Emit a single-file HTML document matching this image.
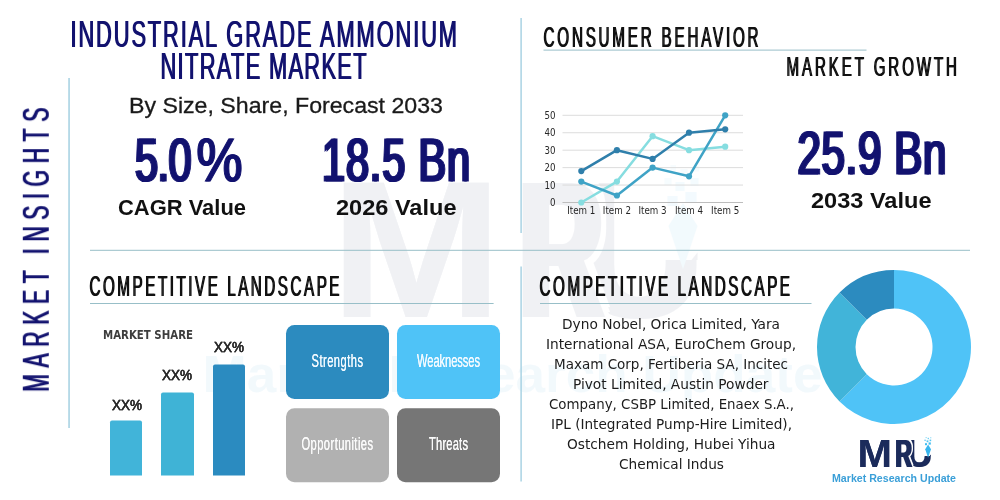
<!DOCTYPE html>
<html lang="en">
<head>
<meta charset="utf-8">
<title>Industrial Grade Ammonium Nitrate Market</title>
<style>
html,body{margin:0;padding:0;background:#ffffff;}
body{width:1000px;height:500px;overflow:hidden;font-family:"Liberation Sans",sans-serif;}
svg{display:block;}
text{white-space:pre;}
</style>
</head>
<body>
<svg width="1000" height="500" viewBox="0 0 1000 500">
<rect width="1000" height="500" fill="#ffffff"/>
<g opacity="0.06" transform="translate(-3957.5,-2020.0) scale(5.0)"><g style="filter:drop-shadow(1.0px 0 0 #1b2b5b)"><text x="906.00" y="467.4" textLength="26.00" lengthAdjust="spacingAndGlyphs" font-family="'Liberation Sans', sans-serif" font-size="39.1" font-weight="bold" fill="#1b2b5b">U</text></g>
<rect x="923.6" y="438" width="9" height="18" fill="#ffffff"/>
<path d="M925.2,456 h5.8 v-1.5 l-2.9,3.6 z" fill="#1b2b5b"/>
<path d="M928.1,444.6 l2.9,4.6 l-2.9,8.6 l-2.9,-8.6 z" fill="#37b6ee"/>
<rect x="925.0" y="443.2" width="2.0" height="2.0" fill="#3fbdf0"/>
<rect x="928.6" y="442.4" width="2.2" height="2.2" fill="#3fbdf0"/>
<rect x="926.6" y="440.4" width="1.8" height="1.8" fill="#55c6f2"/>
<rect x="929.6" y="439.6" width="1.6" height="1.6" fill="#55c6f2"/>
<rect x="924.4" y="439.6" width="1.4" height="1.4" fill="#6fd0f4"/>
<rect x="927.6" y="437.8" width="1.4" height="1.4" fill="#6fd0f4"/>
<rect x="930.2" y="437.2" width="1.1" height="1.1" fill="#8ad9f6"/>
<rect x="925.6" y="437.0" width="1.1" height="1.1" fill="#8ad9f6"/>
<g style="filter:drop-shadow(1.1px 0 0 #fff) drop-shadow(-1.1px 0 0 #fff) drop-shadow(0 1.1px 0 #fff) drop-shadow(0 -1.1px 0 #fff)"><g style="filter:drop-shadow(2.2px 0 0 #1b2b5b)"><text x="894.50" y="467.4" textLength="16.50" lengthAdjust="spacingAndGlyphs" font-family="'Liberation Sans', sans-serif" font-size="39.1" font-weight="bold" fill="#1b2b5b">R</text></g></g>
<g style="filter:drop-shadow(0.7px 0 0 #1b2b5b)"><text x="857.50" y="467.4" textLength="34.50" lengthAdjust="spacingAndGlyphs" font-family="'Liberation Sans', sans-serif" font-size="39.1" font-weight="bold" fill="#1b2b5b">M</text></g>
<text x="832.00" y="482.3" textLength="124.00" lengthAdjust="spacingAndGlyphs" font-family="'Liberation Sans', sans-serif" font-size="10.5" font-weight="bold" fill="#3a9fd8">Market Research Update</text></g>
<rect x="68.3" y="78" width="1.5" height="350" fill="#a4d0e2"/>
<rect x="520.4" y="18" width="1.4" height="215" fill="#a4d0e2"/>
<rect x="520.4" y="266.5" width="1.4" height="215" fill="#a4d0e2"/>
<rect x="90" y="249.8" width="880" height="1" fill="#98bfc8"/>
<rect x="543.5" y="49.6" width="323" height="1" fill="#98bfc8"/>
<rect x="90" y="303" width="403.6" height="1" fill="#98bfc8"/>
<rect x="540" y="303" width="271.5" height="1" fill="#98bfc8"/>
<rect x="562.5" y="202.00" width="180.5" height="1" fill="#bdbdbd"/>
<text x="555.5" y="206.00" text-anchor="end" font-family="'DejaVu Sans', sans-serif" font-stretch="condensed" font-size="9.6" fill="#262626">0</text>
<rect x="562.5" y="184.56" width="180.5" height="1" fill="#dcdcdc"/>
<text x="555.5" y="188.56" text-anchor="end" font-family="'DejaVu Sans', sans-serif" font-stretch="condensed" font-size="9.6" fill="#262626">10</text>
<rect x="562.5" y="167.12" width="180.5" height="1" fill="#dcdcdc"/>
<text x="555.5" y="171.12" text-anchor="end" font-family="'DejaVu Sans', sans-serif" font-stretch="condensed" font-size="9.6" fill="#262626">20</text>
<rect x="562.5" y="149.68" width="180.5" height="1" fill="#dcdcdc"/>
<text x="555.5" y="153.68" text-anchor="end" font-family="'DejaVu Sans', sans-serif" font-stretch="condensed" font-size="9.6" fill="#262626">30</text>
<rect x="562.5" y="132.24" width="180.5" height="1" fill="#dcdcdc"/>
<text x="555.5" y="136.24" text-anchor="end" font-family="'DejaVu Sans', sans-serif" font-stretch="condensed" font-size="9.6" fill="#262626">40</text>
<rect x="562.5" y="114.80" width="180.5" height="1" fill="#dcdcdc"/>
<text x="555.5" y="118.80" text-anchor="end" font-family="'DejaVu Sans', sans-serif" font-stretch="condensed" font-size="9.6" fill="#262626">50</text>
<text x="581.3" y="214" text-anchor="middle" font-family="'DejaVu Sans', sans-serif" font-stretch="condensed" font-size="9.7" fill="#262626">Item 1</text>
<text x="616.9" y="214" text-anchor="middle" font-family="'DejaVu Sans', sans-serif" font-stretch="condensed" font-size="9.7" fill="#262626">Item 2</text>
<text x="652.6" y="214" text-anchor="middle" font-family="'DejaVu Sans', sans-serif" font-stretch="condensed" font-size="9.7" fill="#262626">Item 3</text>
<text x="689.0" y="214" text-anchor="middle" font-family="'DejaVu Sans', sans-serif" font-stretch="condensed" font-size="9.7" fill="#262626">Item 4</text>
<text x="725.2" y="214" text-anchor="middle" font-family="'DejaVu Sans', sans-serif" font-stretch="condensed" font-size="9.7" fill="#262626">Item 5</text>
<polyline points="581.3,202.5 616.9,181.6 652.6,136.2 689.0,150.2 725.2,146.7" fill="none" stroke="#86dde0" stroke-width="2.5" stroke-linejoin="round" stroke-linecap="round"/>
<circle cx="581.3" cy="202.5" r="3.1" fill="#86dde0"/>
<circle cx="616.9" cy="181.6" r="3.1" fill="#86dde0"/>
<circle cx="652.6" cy="136.2" r="3.1" fill="#86dde0"/>
<circle cx="689.0" cy="150.2" r="3.1" fill="#86dde0"/>
<circle cx="725.2" cy="146.7" r="3.1" fill="#86dde0"/>
<polyline points="581.3,181.6 616.9,195.5 652.6,167.6 689.0,176.3 725.2,115.3" fill="none" stroke="#3fa3c6" stroke-width="2.5" stroke-linejoin="round" stroke-linecap="round"/>
<circle cx="581.3" cy="181.6" r="3.1" fill="#3fa3c6"/>
<circle cx="616.9" cy="195.5" r="3.1" fill="#3fa3c6"/>
<circle cx="652.6" cy="167.6" r="3.1" fill="#3fa3c6"/>
<circle cx="689.0" cy="176.3" r="3.1" fill="#3fa3c6"/>
<circle cx="725.2" cy="115.3" r="3.1" fill="#3fa3c6"/>
<polyline points="581.3,171.1 616.9,150.2 652.6,158.9 689.0,132.7 725.2,129.3" fill="none" stroke="#2f7fab" stroke-width="2.5" stroke-linejoin="round" stroke-linecap="round"/>
<circle cx="581.3" cy="171.1" r="3.1" fill="#2f7fab"/>
<circle cx="616.9" cy="150.2" r="3.1" fill="#2f7fab"/>
<circle cx="652.6" cy="158.9" r="3.1" fill="#2f7fab"/>
<circle cx="689.0" cy="132.7" r="3.1" fill="#2f7fab"/>
<circle cx="725.2" cy="129.3" r="3.1" fill="#2f7fab"/>
<path d="M110,475.6 V422.5 Q110,420.5 112,420.5 H140 Q142,420.5 142,422.5 V475.6 Z" fill="#41b4d9"/>
<path d="M161,475.6 V394.5 Q161,392.5 163,392.5 H192 Q194,392.5 194,394.5 V475.6 Z" fill="#3fb3d6"/>
<path d="M213,475.6 V366.5 Q213,364.5 215,364.5 H243 Q245,364.5 245,366.5 V475.6 Z" fill="#2b8bc0"/>
<rect x="286" y="325" width="103" height="74" rx="8.5" ry="8.5" fill="#2c8bbf"/>
<rect x="397" y="325" width="103" height="74" rx="8.5" ry="8.5" fill="#4fc3f7"/>
<rect x="286" y="408.2" width="103" height="74" rx="8.5" ry="8.5" fill="#b1b1b1"/>
<rect x="397" y="408.2" width="103" height="74" rx="8.5" ry="8.5" fill="#767676"/>
<path d="M894.00,270.00 A77,77 0 1 1 839.55,401.45 L866.78,374.22 A38.5,38.5 0 1 0 894.00,308.50 Z" fill="#4fc3f7"/>
<path d="M839.55,401.45 A77,77 0 0 1 839.55,292.55 L866.78,319.78 A38.5,38.5 0 0 0 866.78,374.22 Z" fill="#41b4d9"/>
<path d="M839.55,292.55 A77,77 0 0 1 894.00,270.00 L894.00,308.50 A38.5,38.5 0 0 0 866.78,319.78 Z" fill="#2c8bbf"/>
<g style="filter:drop-shadow(1.5px 0 0 #12126f)"><text transform="translate(70.00,46.6) scale(0.59,1)" textLength="655.08" lengthAdjust="spacing" font-family="'Liberation Sans', sans-serif" font-size="37" font-weight="normal" fill="#12126f">INDUSTRIAL GRADE AMMONIUM</text></g>
<g style="filter:drop-shadow(1.5px 0 0 #12126f)"><text transform="translate(160.00,78.6) scale(0.59,1)" textLength="349.15" lengthAdjust="spacing" font-family="'Liberation Sans', sans-serif" font-size="37" font-weight="normal" fill="#12126f">NITRATE MARKET</text></g>
<text x="129.00" y="112.5" textLength="314.00" lengthAdjust="spacingAndGlyphs" font-family="'Liberation Sans', sans-serif" font-size="22.9" font-weight="normal" fill="#1a1a1a" stroke="#1a1a1a" stroke-width="0.3">By Size, Share, Forecast 2033</text>
<g style="filter:drop-shadow(2.0px 0 0 #12126f)"><text transform="translate(134.00,180.5) scale(0.685,1)" textLength="82.48" lengthAdjust="spacing" font-family="'Liberation Sans', sans-serif" font-size="60.5" font-weight="normal" fill="#12126f" stroke="#12126f" stroke-width="1" vector-effect="non-scaling-stroke">5.0</text></g>
<g style="filter:drop-shadow(1.6px 0 0 #12126f)"><text transform="translate(196.00,180.5) scale(0.8,1)" textLength="57.50" lengthAdjust="spacingAndGlyphs" font-family="'Liberation Sans', sans-serif" font-size="60.5" font-weight="normal" fill="#12126f" stroke="#12126f" stroke-width="1" vector-effect="non-scaling-stroke">%</text></g>
<text x="118.00" y="215" textLength="128.00" lengthAdjust="spacingAndGlyphs" font-family="'Liberation Sans', sans-serif" font-size="21.7" font-weight="bold" fill="#111">CAGR Value</text>
<g style="filter:drop-shadow(2.0px 0 0 #12126f)"><text transform="translate(321.00,180.5) scale(0.685,1)" textLength="216.06" lengthAdjust="spacing" font-family="'Liberation Sans', sans-serif" font-size="60.5" font-weight="normal" fill="#12126f" stroke="#12126f" stroke-width="1" vector-effect="non-scaling-stroke">18.5 Bn</text></g>
<text x="336.00" y="214.7" textLength="120.50" lengthAdjust="spacingAndGlyphs" font-family="'Liberation Sans', sans-serif" font-size="21.7" font-weight="bold" fill="#111">2026 Value</text>
<g style="filter:drop-shadow(2.0px 0 0 #12126f)"><text transform="translate(796.50,173.6) scale(0.69,1)" textLength="215.94" lengthAdjust="spacing" font-family="'Liberation Sans', sans-serif" font-size="61" font-weight="normal" fill="#12126f" stroke="#12126f" stroke-width="1" vector-effect="non-scaling-stroke">25.9 Bn</text></g>
<text x="811.00" y="207.7" textLength="120.50" lengthAdjust="spacingAndGlyphs" font-family="'Liberation Sans', sans-serif" font-size="22.3" font-weight="bold" fill="#111">2033 Value</text>
<g style="filter:drop-shadow(1.7px 0 0 #111)"><text transform="translate(543.00,46.8) scale(0.53,1)" textLength="405.66" lengthAdjust="spacing" font-family="'Liberation Sans', sans-serif" font-size="28.7" font-weight="normal" fill="#111">CONSUMER BEHAVIOR</text></g>
<g style="filter:drop-shadow(1.7px 0 0 #111)"><text transform="translate(786.00,75.8) scale(0.53,1)" textLength="321.70" lengthAdjust="spacing" font-family="'Liberation Sans', sans-serif" font-size="28.4" font-weight="normal" fill="#111">MARKET GROWTH</text></g>
<g style="filter:drop-shadow(1.7px 0 0 #111)"><text transform="translate(89.00,295.5) scale(0.53,1)" textLength="471.70" lengthAdjust="spacing" font-family="'Liberation Sans', sans-serif" font-size="28.7" font-weight="normal" fill="#111">COMPETITIVE LANDSCAPE</text></g>
<g style="filter:drop-shadow(1.7px 0 0 #111)"><text transform="translate(539.00,295.5) scale(0.53,1)" textLength="472.64" lengthAdjust="spacing" font-family="'Liberation Sans', sans-serif" font-size="28.7" font-weight="normal" fill="#111">COMPETITIVE LANDSCAPE</text></g>
<text x="103.00" y="339" textLength="90.00" lengthAdjust="spacingAndGlyphs" font-family="'DejaVu Sans', sans-serif" font-stretch="condensed" font-size="11.5" font-weight="bold" fill="#3d3d3d">MARKET SHARE</text>
<g style="filter:drop-shadow(0.4px 0 0 #2a2a2a)"><text x="112.00" y="410.2" textLength="30.00" lengthAdjust="spacingAndGlyphs" font-family="'Liberation Sans', sans-serif" font-size="13.8" font-weight="normal" fill="#2a2a2a" stroke="#2a2a2a" stroke-width="0.35">XX%</text></g>
<g style="filter:drop-shadow(0.4px 0 0 #2a2a2a)"><text x="162.00" y="380.4" textLength="30.00" lengthAdjust="spacingAndGlyphs" font-family="'Liberation Sans', sans-serif" font-size="13.8" font-weight="normal" fill="#2a2a2a" stroke="#2a2a2a" stroke-width="0.35">XX%</text></g>
<g style="filter:drop-shadow(0.4px 0 0 #2a2a2a)"><text x="214.00" y="352.2" textLength="30.00" lengthAdjust="spacingAndGlyphs" font-family="'Liberation Sans', sans-serif" font-size="13.8" font-weight="normal" fill="#2a2a2a" stroke="#2a2a2a" stroke-width="0.35">XX%</text></g>
<g style="filter:drop-shadow(0.6px 0 0 #f3faff)"><text transform="translate(311.50,367.2) scale(0.62,1)" textLength="83.06" lengthAdjust="spacing" font-family="'Liberation Sans', sans-serif" font-size="18" font-weight="normal" fill="#f3faff">Strengths</text></g>
<g style="filter:drop-shadow(0.6px 0 0 #f3faff)"><text transform="translate(417.00,367.2) scale(0.62,1)" textLength="101.61" lengthAdjust="spacing" font-family="'Liberation Sans', sans-serif" font-size="18" font-weight="normal" fill="#f3faff">Weaknesses</text></g>
<g style="filter:drop-shadow(0.6px 0 0 #fafafa)"><text transform="translate(301.50,450.2) scale(0.62,1)" textLength="115.32" lengthAdjust="spacing" font-family="'Liberation Sans', sans-serif" font-size="18" font-weight="normal" fill="#fafafa">Opportunities</text></g>
<g style="filter:drop-shadow(0.6px 0 0 #fafafa)"><text transform="translate(429.00,450.2) scale(0.62,1)" textLength="62.90" lengthAdjust="spacing" font-family="'Liberation Sans', sans-serif" font-size="18" font-weight="normal" fill="#fafafa">Threats</text></g>
<text x="562.00" y="329" textLength="218.00" lengthAdjust="spacingAndGlyphs" font-family="'DejaVu Sans', sans-serif" font-stretch="condensed" font-size="13.8" font-weight="normal" fill="#1c1c1c">Dyno Nobel, Orica Limited, Yara</text>
<text x="546.00" y="349" textLength="250.00" lengthAdjust="spacingAndGlyphs" font-family="'DejaVu Sans', sans-serif" font-stretch="condensed" font-size="13.8" font-weight="normal" fill="#1c1c1c">International ASA, EuroChem Group,</text>
<text x="554.00" y="369" textLength="234.00" lengthAdjust="spacingAndGlyphs" font-family="'DejaVu Sans', sans-serif" font-stretch="condensed" font-size="13.8" font-weight="normal" fill="#1c1c1c">Maxam Corp, Fertiberia SA, Incitec</text>
<text x="573.00" y="389" textLength="195.50" lengthAdjust="spacingAndGlyphs" font-family="'DejaVu Sans', sans-serif" font-stretch="condensed" font-size="13.8" font-weight="normal" fill="#1c1c1c">Pivot Limited, Austin Powder</text>
<text x="549.00" y="409" textLength="245.00" lengthAdjust="spacingAndGlyphs" font-family="'DejaVu Sans', sans-serif" font-stretch="condensed" font-size="13.8" font-weight="normal" fill="#1c1c1c">Company, CSBP Limited, Enaex S.A.,</text>
<text x="551.00" y="429" textLength="241.00" lengthAdjust="spacingAndGlyphs" font-family="'DejaVu Sans', sans-serif" font-stretch="condensed" font-size="13.8" font-weight="normal" fill="#1c1c1c">IPL (Integrated Pump-Hire Limited),</text>
<text x="567.00" y="449" textLength="208.50" lengthAdjust="spacingAndGlyphs" font-family="'DejaVu Sans', sans-serif" font-stretch="condensed" font-size="13.8" font-weight="normal" fill="#1c1c1c">Ostchem Holding, Hubei Yihua</text>
<text x="619.00" y="469" textLength="105.00" lengthAdjust="spacingAndGlyphs" font-family="'DejaVu Sans', sans-serif" font-stretch="condensed" font-size="13.8" font-weight="normal" fill="#1c1c1c">Chemical Indus</text>
<g style="filter:drop-shadow(1.0px 0 0 #1b2b5b)"><text x="906.00" y="467.4" textLength="26.00" lengthAdjust="spacingAndGlyphs" font-family="'Liberation Sans', sans-serif" font-size="39.1" font-weight="bold" fill="#1b2b5b">U</text></g>
<rect x="923.6" y="438" width="9" height="18" fill="#ffffff"/>
<path d="M925.2,456 h5.8 v-1.5 l-2.9,3.6 z" fill="#1b2b5b"/>
<path d="M928.1,444.6 l2.9,4.6 l-2.9,8.6 l-2.9,-8.6 z" fill="#37b6ee"/>
<rect x="925.0" y="443.2" width="2.0" height="2.0" fill="#3fbdf0"/>
<rect x="928.6" y="442.4" width="2.2" height="2.2" fill="#3fbdf0"/>
<rect x="926.6" y="440.4" width="1.8" height="1.8" fill="#55c6f2"/>
<rect x="929.6" y="439.6" width="1.6" height="1.6" fill="#55c6f2"/>
<rect x="924.4" y="439.6" width="1.4" height="1.4" fill="#6fd0f4"/>
<rect x="927.6" y="437.8" width="1.4" height="1.4" fill="#6fd0f4"/>
<rect x="930.2" y="437.2" width="1.1" height="1.1" fill="#8ad9f6"/>
<rect x="925.6" y="437.0" width="1.1" height="1.1" fill="#8ad9f6"/>
<g style="filter:drop-shadow(1.1px 0 0 #fff) drop-shadow(-1.1px 0 0 #fff) drop-shadow(0 1.1px 0 #fff) drop-shadow(0 -1.1px 0 #fff)"><g style="filter:drop-shadow(2.2px 0 0 #1b2b5b)"><text x="894.50" y="467.4" textLength="16.50" lengthAdjust="spacingAndGlyphs" font-family="'Liberation Sans', sans-serif" font-size="39.1" font-weight="bold" fill="#1b2b5b">R</text></g></g>
<g style="filter:drop-shadow(0.7px 0 0 #1b2b5b)"><text x="857.50" y="467.4" textLength="34.50" lengthAdjust="spacingAndGlyphs" font-family="'Liberation Sans', sans-serif" font-size="39.1" font-weight="bold" fill="#1b2b5b">M</text></g>
<text x="832.00" y="482.3" textLength="124.00" lengthAdjust="spacingAndGlyphs" font-family="'Liberation Sans', sans-serif" font-size="10.5" font-weight="bold" fill="#3a9fd8">Market Research Update</text>
<g transform="translate(48.8,391.2) rotate(-90)"><g style="filter:drop-shadow(1.3px 0 0 #12126f)"><text transform="translate(-1.00,0) scale(0.57,1)" textLength="498.25" lengthAdjust="spacing" font-family="'Liberation Sans', sans-serif" font-size="37" font-weight="normal" fill="#12126f" word-spacing="-4.5">MARKET INSIGHTS</text></g></g>
</svg>
</body>
</html>
